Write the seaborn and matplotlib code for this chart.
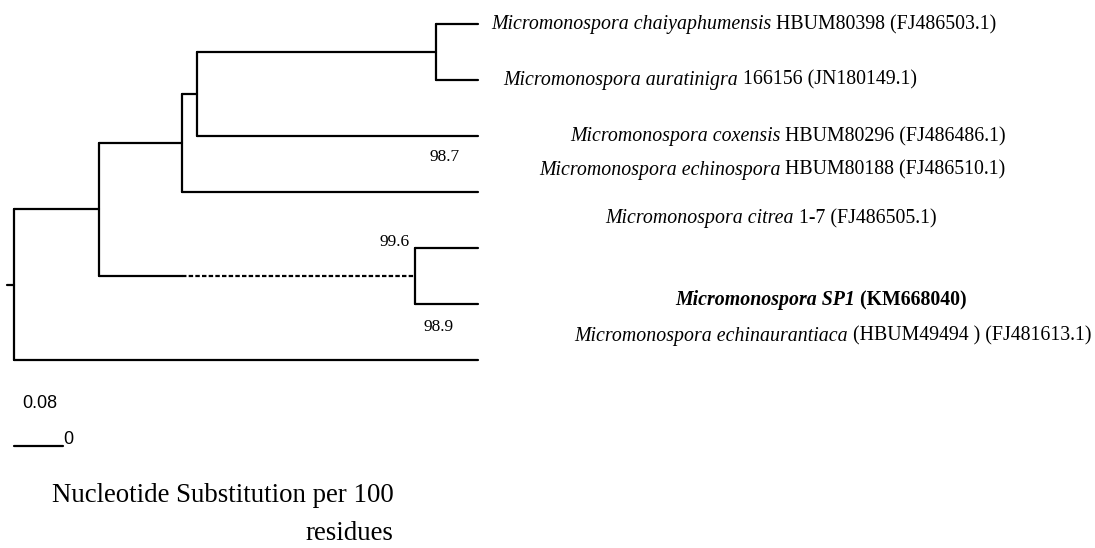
import matplotlib
matplotlib.use("Agg")
import matplotlib.pyplot as plt
import matplotlib.transforms as mtransforms
import pandas as pd
import seaborn as sns

sns.set_theme(style="white")
plt.rcParams['font.family'] = ['Liberation Serif', 'DejaVu Serif']
plt.rcParams['text.color'] = 'black'

W, H = 1095, 548

# tree topology and branch depths (substitutions)
node_names = ["root", "A", "B", "C", "E", "D"]
node_depth = [0.0, 0.139, 0.275, 0.299, 0.690, 0.655]
node_children = [["A", "L6"], ["B", "D"], ["C", "L3"], ["E", "L2"], ["L0", "L1"], ["L4", "L5"]]
leaf_names = ["L0", "L1", "L2", "L3", "L4", "L5", "L6"]
leaf_depth = 0.758
root_stem = 0.011
dashed_branch = ("A", "D")
dash_from = 0.275
scale_len = 0.08

species = ["Micromonospora chaiyaphumensis", "Micromonospora auratinigra",
           "Micromonospora coxensis", "Micromonospora echinospora",
           "Micromonospora citrea", "Micromonospora SP1",
           "Micromonospora echinaurantiaca"]
strains = [" HBUM80398 (FJ486503.1)", " 166156 (JN180149.1)",
           " HBUM80296 (FJ486486.1)", " HBUM80188 (FJ486510.1)",
           " 1-7 (FJ486505.1)", " (KM668040)",
           " (HBUM49494 ) (FJ481613.1)"]
bold_leaf = "Micromonospora SP1"
bootstrap = ["98.7", "99.6", "98.9"]

# layout (pixel positions of the texts, as in the original figure)
label_pos = [(491, 25), (503, 80), (570, 137), (539, 170), (605, 219), (675, 300), (574, 336)]
boot_pos = [(430, 157), (380, 242), (424, 327)]
scale_y = 7.54

depth = dict(zip(node_names, node_depth))
kids = dict(zip(node_names, node_children))
for l in leaf_names:
    depth[l] = leaf_depth

ypos = {l: i for i, l in enumerate(leaf_names)}
def get_y(n):
    if n not in ypos:
        ys = [get_y(c) for c in kids[n]]
        ypos[n] = sum(ys) / len(ys)
    return ypos[n]
get_y("root")

rows = []
seg = 0
def add(x0, x1, y0, y1, kind="solid"):
    global seg
    rows.append((seg, x0, y0, kind))
    rows.append((seg, x1, y1, kind))
    seg += 1

add(-root_stem, 0, ypos["root"], ypos["root"])
for n in node_names:
    x = depth[n]
    cy = [ypos[c] for c in kids[n]]
    add(x, x, min(cy), max(cy))
    for c in kids[n]:
        if (n, c) == dashed_branch:
            add(x, dash_from, ypos[c], ypos[c])
            add(dash_from, depth[c], ypos[c], ypos[c], "dash")
        else:
            add(x, depth[c], ypos[c], ypos[c])
add(0, scale_len, scale_y, scale_y)

df = pd.DataFrame(rows, columns=["seg", "x", "y", "kind"])

fig = plt.figure(figsize=(W / 100, H / 100), dpi=100)
ax = fig.add_axes([0, 0, 1, 1])
sns.lineplot(data=df, x="x", y="y", units="seg", style="kind",
             dashes={"solid": "", "dash": (2, 1)}, estimator=None, sort=False,
             color="black", linewidth=1.6, legend=False, ax=ax)

px_per_unit = 612
ax.set_xlim(-14 / px_per_unit, (W - 14) / px_per_unit)
ax.set_ylim((H - 24) / 56, -24 / 56)
ax.set_axis_off()

pix = mtransforms.Affine2D().scale(1, -1).translate(0, H)

lab_size = 14.3
for sp, st, (lx, ly) in zip(species, strains, label_pos):
    w = "bold" if sp == bold_leaf else "normal"
    t1 = ax.text(lx, ly, sp, transform=pix, ha="left", va="center",
                 fontsize=lab_size, style="italic", weight=w)
    ax.annotate(st, xy=(1, 0), xycoords=t1, ha="left", va="bottom",
                fontsize=lab_size, weight=w)

for b, (bx, by) in zip(bootstrap, boot_pos):
    ax.text(bx, by, b, transform=pix, ha="left", va="center", fontsize=12.5)

sans = ['Liberation Sans', 'DejaVu Sans']
ax.text(22, 403, "0.08", transform=pix, ha="left", va="center", fontsize=13, family=sans)
ax.text(63, 440, "0", transform=pix, ha="left", va="center", fontsize=13, family=sans)

t = ax.text(52, 496, "Nucleotide Substitution per 100", transform=pix,
            ha="left", va="center", fontsize=19.4)
ax.annotate("residues", xy=(1, 0.5), xycoords=t, xytext=(0, -38),
            textcoords="offset pixels", ha="right", va="center", fontsize=19.4)

fig.savefig("out.png", dpi=100)
